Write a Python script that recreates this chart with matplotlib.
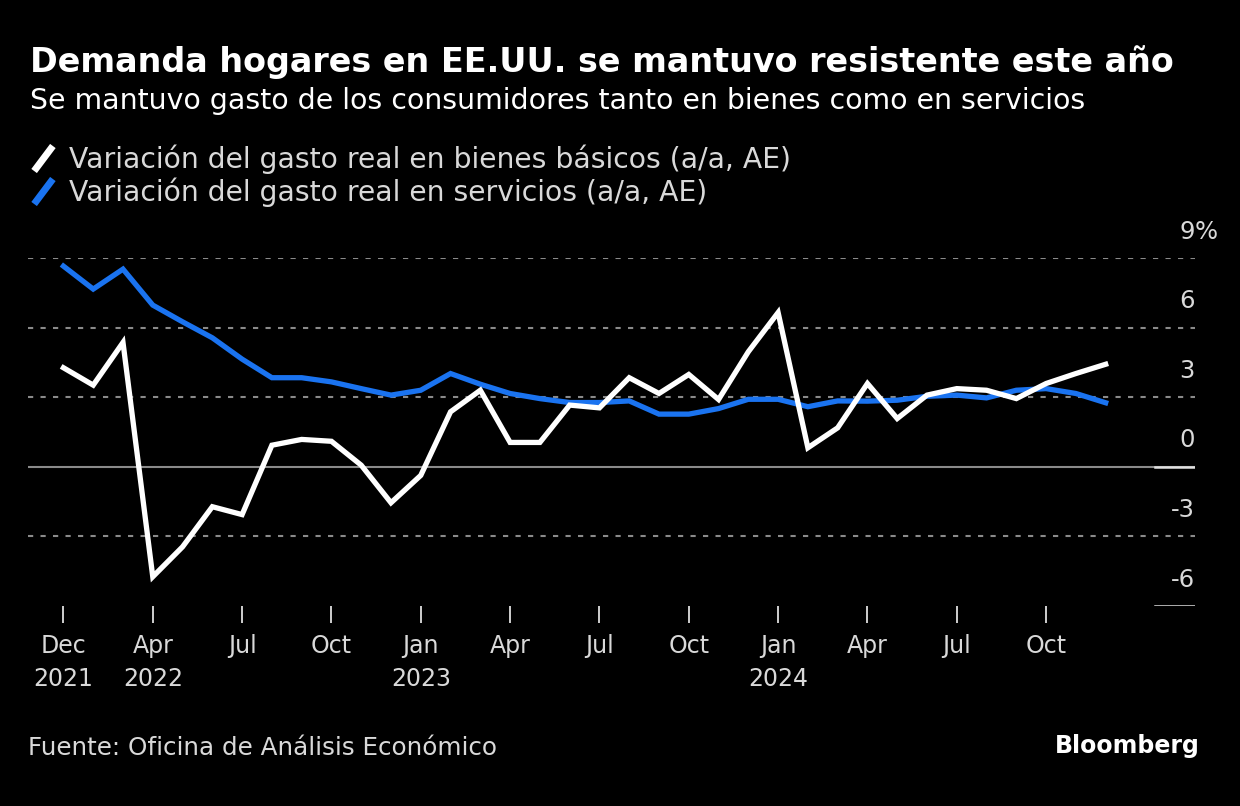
import matplotlib.pyplot as plt
import numpy as np
from matplotlib.lines import Line2D
from matplotlib.path import Path

# Datos (variación interanual, %), mensual desde dic 2021 hasta nov 2024
bienes = [4.27, 3.52, 5.36, -4.74, -3.45, -1.72, -2.06, 0.93, 1.18, 1.10,
          0.07, -1.55, -0.37, 2.37, 3.30, 1.05, 1.05, 2.66, 2.54, 3.84,
          3.16, 3.98, 2.90, 4.96, 6.65, 0.82, 1.68, 3.59, 2.08, 3.09,
          3.37, 3.30, 2.94, 3.59, 4.02, 4.42]
servicios = [8.65, 7.66, 8.52, 6.97, 6.25, 5.56, 4.64, 3.84, 3.84, 3.66,
             3.37, 3.09, 3.30, 4.02, 3.56, 3.16, 2.94, 2.77, 2.77, 2.84,
             2.27, 2.27, 2.51, 2.91, 2.91, 2.59, 2.84, 2.83, 2.87, 3.04,
             3.09, 2.97, 3.30, 3.37, 3.16, 2.76]
tick_pos = [0, 3, 6, 9, 12, 15, 18, 21, 24, 27, 30, 33]
tick_labels = ["Dec\n2021", "Apr\n2022", "Jul", "Oct", "Jan\n2023", "Apr", "Jul",
               "Oct", "Jan\n2024", "Apr", "Jul", "Oct"]
y_ticks = [9, 6, 3, 0, -3, -6]

BLUE = "#1a73f0"
TXT = "#d9d9d9"
FONT = "DejaVu Sans"

plt.rcParams["font.family"] = FONT
fig = plt.figure(figsize=(12.4, 8.06), dpi=100, facecolor="black")
ax = fig.add_axes([28 / 1240, 1 - 606 / 806, (1195 - 28) / 1240, (606 - 258) / 806])
ax.set_facecolor("black")

x = np.arange(len(bienes))

# Rejilla
for v in [9, 6, 3, -3]:
    ax.axhline(v, color="#8a8a8a", lw=1.5, ls=(0, (2.5, 3.5)), zorder=1)
ax.axhline(0, color="#8a8a8a", lw=1.5, zorder=1)
ax.axhline(0, xmin=0.9657, xmax=1, color="#e0e0e0", lw=1.8, zorder=2)
ax.axhline(-6, xmin=0.9657, xmax=1, color="#e0e0e0", lw=1.8, zorder=2)

ax.plot(x, servicios, color=BLUE, lw=3.8, solid_joinstyle="miter", zorder=3)
ax.plot(x, bienes, color="white", lw=3.8, solid_joinstyle="miter", zorder=4)

ax.set_xlim(-1.19, 38.0)
ax.set_ylim(-6, 9)
for s in ax.spines.values():
    s.set_visible(False)

ax.set_xticks(tick_pos)
ax.set_xticklabels(tick_labels, color=TXT, fontsize=17, linespacing=1.5)
ax.tick_params(axis="x", direction="out", length=12, width=1.4, color="#cfcfcf", pad=8)
ax.set_yticks([])

# Etiquetas del eje y encima de las líneas
ytr = ax.get_yaxis_transform()
for v in y_ticks:
    ax.text(1.0, v + 0.62, str(v), transform=ytr, ha="right", va="bottom",
            color=TXT, fontsize=17.5)
ax.text(1.0, 9 + 0.62, "%", transform=ytr, ha="left", va="bottom", color=TXT, fontsize=17.5)

# Títulos
fig.text(30 / 1240, 1 - 62 / 806, "Demanda hogares en EE.UU. se mantuvo resistente este año",
         color="white", fontsize=24, fontweight="bold", va="center")
fig.text(30 / 1240, 1 - 101 / 806,
         "Se mantuvo gasto de los consumidores tanto en bienes como en servicios",
         color="white", fontsize=20.4, va="center")

# Leyenda con marcador inclinado
slash = Path([(-0.75, -1), (0.75, 1)], [Path.MOVETO, Path.LINETO])
handles = [Line2D([], [], ls="none", marker=slash, ms=18, mew=5, color="white"),
           Line2D([], [], ls="none", marker=slash, ms=18, mew=5, color=BLUE)]
labels = ["Variación del gasto real en bienes básicos (a/a, AE)",
          "Variación del gasto real en servicios (a/a, AE)"]
fig.legend(handles, labels, loc="upper left", bbox_to_anchor=(18 / 1240, 1 - 133 / 806),
           frameon=False, labelcolor=TXT, fontsize=20.3, handlelength=1.0,
           handletextpad=0.4, labelspacing=0.12, borderaxespad=0)

# Pie
fig.text(28 / 1240, 1 - 748 / 806, "Fuente: Oficina de Análisis Económico",
         color=TXT, fontsize=17.7, va="center")
fig.text(1200 / 1240, 1 - 746 / 806, "Bloomberg", color="white", fontsize=17,
         fontweight="bold", ha="right", va="center")

fig.savefig("out.png", dpi=100, facecolor="black")
